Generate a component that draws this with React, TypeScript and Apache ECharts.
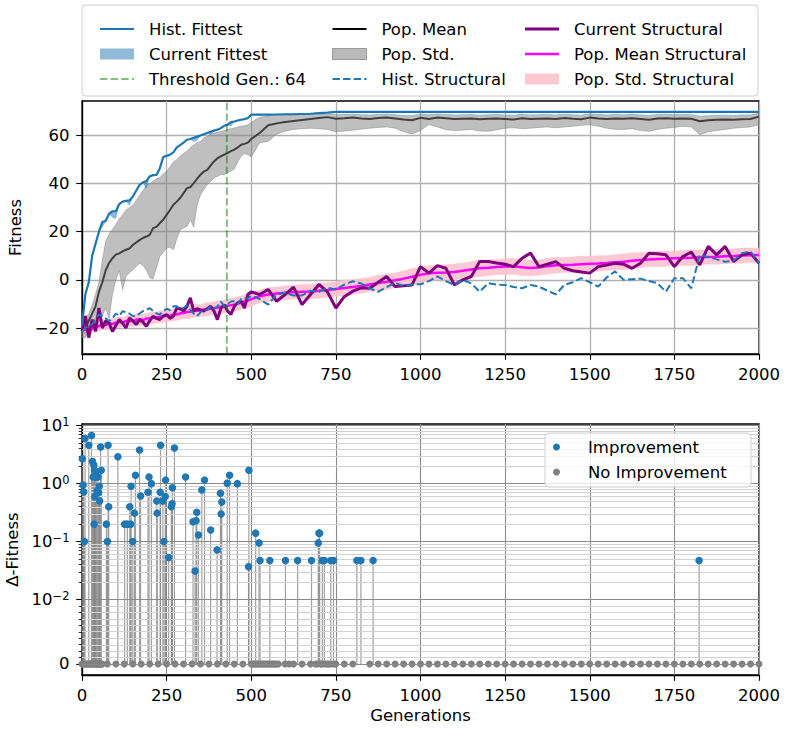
import React, { useEffect, useRef } from 'react';
import * as echarts from 'echarts';

// ---------------- data ----------------
const GENS = [0,10,20,30,40,50,60,70,80,90,100,110,120,130,140,150,160,170,180,190,200,210,220,230,240,250,260,270,280,290,300,310,320,330,340,350,360,370,380,390,400,410,420,430,440,450,460,470,480,490,500,525,550,575,600,625,650,675,700,725,750,775,800,825,850,875,900,925,950,975,1000,1025,1050,1075,1100,1125,1150,1175,1200,1225,1250,1275,1300,1325,1350,1375,1400,1425,1450,1475,1500,1525,1550,1575,1600,1625,1650,1675,1700,1725,1750,1775,1800,1825,1850,1875,1900,1925,1950,1975,2000];

const POP_MEAN = [-21,-20,-17,-14,-11,-5,-1,4,7,9,10.5,11,11.8,12.5,13,14.5,15.5,16.5,17.4,18,18.7,21.5,22,23.6,25,27,29,31.2,32.5,34,36,38.1,38.5,40.2,42,43.7,45,45.7,47.5,49.2,50.5,51.3,52,52.7,53.5,54.1,55,56.1,56.5,57,58.5,
  61,64.2,65,65.6,66,66.4,66.8,67.2,67.6,66.9,67.1,67.4,67,66.8,67.2,67.4,67,66.6,66.3,67.3,66.8,67.4,67.1,66.8,66.9,67,66.7,66.9,67,66.8,66.6,67.1,66.8,66.9,67,66.8,67.2,66.9,66.7,67.4,67,66.8,67,66.9,67.1,66.8,66.5,67,67.1,66.9,67,66.9,65.9,66.3,66.5,66.6,66.5,66.7,66.8,67.8];

const POP_STD_HI = [-17,-16,-14,-10.5,-6,-1,8,16,19,21,23,25.5,27,29,30,31,33,35,37,39.5,40,41,42,42.5,44,45,47,49,50,51.3,52.5,53.4,55,56,57,57.5,59,59.6,60.5,61,61.3,61.6,62,62.4,62.8,63.1,63.5,63.8,64,64.4,65.5,
  67.5,68.2,68.4,68.5,68.6,68.7,68.8,69,69,68.6,68.7,68.8,68.6,68.5,68.7,68.9,68.6,68.3,68.2,68.9,68.6,68.9,68.7,68.5,68.6,68.7,68.4,68.6,68.7,68.5,68.4,68.8,68.5,68.6,68.7,68.5,68.8,68.6,68.4,69,68.7,68.5,68.7,68.6,68.8,68.5,68.3,68.7,68.8,68.6,68.7,68.6,68,68.2,68.3,68.4,68.3,68.5,68.5,69.2];

const POP_STD_LO = [-24,-24,-22,-20,-19,-17.3,-15,-11.8,-16,-6,0,4,-4,1.4,3,4.1,5.5,6.9,6,4.1,1,0.3,5,9.7,11.5,13.2,13.5,12.5,17,20.8,21.5,22.2,25,22,31,35.3,37.5,39.5,41,42.3,43,43.7,43.7,44.5,45.2,46,49,51.3,52.5,52,51,
  57,57.5,60.5,61.8,62.5,62.8,63,62.8,62.5,61.5,61.8,62.2,62.6,63,63.3,63.5,63,61.5,60.6,62,64.5,63.5,62.4,62,62.2,62.5,61.8,61.7,62.3,63,63.2,62.8,63,63.3,63.5,63.2,63.5,63.8,64.2,64.4,63.8,63,62.5,62.5,62.8,62,61.7,62.5,63,63.3,63.8,63.5,60.3,61.5,62,62.5,63,63.3,63.5,64.5];

const CUR_STRUCT = [-21.4,-15,-24,-16.5,-21.4,-11.7,-20,-17,-18,-21.4,-19,-16.5,-18,-20,-15.8,-17,-18.6,-16.5,-17.5,-19.3,-17,-15.1,-16,-16.5,-15,-14.4,-16,-15.1,-11.7,-12,-13,-11,-7.5,-13,-12,-12.5,-13,-12,-11,-13,-16.5,-12,-10.3,-13,-14.4,-11,-9.5,-8.9,-11.7,-6.1,-5,
  -6.1,-4,-8.9,-6.1,-3,-10.3,-6.1,-1.9,-5,-11.7,-7,-4.7,-3.3,-3.5,-1,1.4,-2.8,-2.5,-2.1,5.5,2.8,5.9,4.8,-2.1,0,1.4,7.6,7.6,7,6.5,5.5,9,11.1,5.5,6.5,7.6,4.8,3.8,3.3,2.8,5.5,6.2,6.9,6.5,4.8,6.9,11.1,10.8,10.4,5.5,9.7,11.5,6.2,13.9,10.4,13.9,7.6,10.4,11.1,6.9];

const MEAN_STRUCT = [-20,-20.8,-21,-20.2,-19.6,-19.2,-18.4,-18.8,-18,-18.3,-17.8,-17.4,-17.7,-17.1,-17,-17.2,-16.6,-16.4,-16.7,-16.1,-16,-15.6,-15.7,-15.3,-15.2,-14.9,-14.9,-14.4,-14.4,-13.9,-13.8,-13.4,-13.3,-12.9,-12.8,-12.7,-12.3,-12.3,-11.9,-11.8,-11.6,-11.2,-11.1,-10.8,-10.5,-10.3,-9.8,-9.5,-9,-8.6,-8,
  -6.8,-6.1,-5.7,-5.4,-5.1,-4.9,-4.8,-4.5,-4.2,-3.8,-3.4,-3,-2.5,-1.9,-1.3,-0.8,-0.2,0.5,1.3,2.1,2.7,3,3.1,3.3,3.8,4.3,4.8,5,5.3,5.5,5.6,5.2,4.9,5.1,5.7,6.1,6.2,6.3,6.5,6.7,6.8,7,7.3,7.5,7.9,8.2,8.5,8.7,8.8,9,9.1,9.2,9.4,9.5,9.6,9.8,9.9,10.1,10.2,10.3];

const STD_STRUCT = [1.5,1.8,2,1.8,2,1.9,2.1,2,2.2,2,2.1,2.2,2,2.3,2.1,2.2,2.4,2.2,2.3,2.1,2.3,2.4,2.2,2.5,2.3,2.4,2.3,2.5,2.4,2.6,2.4,2.5,2.7,2.5,2.6,2.4,2.6,2.7,2.5,2.6,2.8,2.6,2.7,2.5,2.8,2.7,2.9,2.7,2.8,3,2.8,
  2.6,2.8,2.7,2.9,2.8,3,2.9,3.1,2.9,3,3.2,3,3.1,2.9,3.2,3.1,3,3.2,3.3,3.1,3.2,3,3.2,3.3,3.1,3.2,3.4,3.2,3.1,3.3,3.2,3.4,3.2,3.1,3.3,3.2,3,3.2,3.3,3.1,3.2,3,3.1,3.2,3.3,3.1,3,3.2,3.1,2.9,3.1,3.2,3,2.9,3.1,3,2.9,3.1,3,2.9];

const HIST_STRUCT = [-21.4,-20,-19,-18.6,-16,-14.4,-15,-16,-17.2,-16,-14,-15,-13,-13.5,-14,-15,-15.1,-14,-13,-12.5,-11.7,-13,-14,-14.4,-13,-12,-12.5,-11,-11,-12,-11.7,-10.5,-12.5,-14,-15.1,-13.5,-12.3,-12.5,-11,-12,-11,-9,-11,-10,-9,-8.9,-10,-8,-7.5,-7.8,-6.5,
  -8,-10.3,-6,-5.4,-6.5,-6.5,-4.5,-5,-3.3,-4,-2,-0.6,-1.5,-3.5,-5,-3,-1.2,-2.5,-1.9,-1.8,-0.5,1.4,-0.5,-2.1,0,-1.5,-4.9,-1.4,-2,-2.1,-3,-3.5,-2.1,-2.8,-4.5,-6,-2.1,-1,0.7,-1,-2.8,1,3.5,0,0.3,0.5,-0.5,-1.4,-4.9,0.7,0.7,-3.5,10.4,9.5,8.5,7.5,8,11.1,11.8,6.9];

const FIT_GENS = [0,10,20,30,40,50,60,70,80,90,100,110,120,130,140,150,160,170,180,190,200,210,220,230,240,250,260,270,280,290,300,310,320,330,340,350,360,370,380,390,400,410,420,430,440,450,460,470,480,490,500,525,550,575,600,625,650,675,700,725,750,2000];
const HIST_FIT = [-19,-6,-1,10,15,20,24,24.5,27.5,28.5,28.5,31.5,32.5,32.8,33,34.5,37,39.5,40.5,41,43,43.5,43.6,46.4,51,51.5,52,53,55,56,57,58.2,58.5,59,59.5,60,60.5,61,61.5,62,62.4,63,64,64.5,65.5,65.8,66.2,66.5,66.8,67.2,68.6,
  68.6,68.6,68.7,68.8,68.8,68.9,69,69.3,69.5,69.8,69.8];
const CUR_FIT = [-19,-6,-1,10,15,20,22,24.5,27.5,26,25.5,31.5,32.5,32.8,31,34.5,37,39.5,40.5,38,43,43.5,43.6,46.4,51,51.5,52,53,55,56,57,58.2,58.5,57.5,58,60,60.5,61,60.3,62,62.4,63,64,64.5,63.8,65.8,66.2,66.5,66.8,67.2,68.6,
  68.6,68.6,68.7,68.8,68.8,68.9,69,69.3,69.5,69.8,69.8];

const THRESHOLD_GEN = 428;
const THRESHOLD_LABEL = 'Threshold Gen.: 64';

const IMP_GENS = [1,3,5,7,9,20,28,31,33,35,36,37,38,40,42,44,47,49,51,52,55,57,72,75,77,79,106,126,134,141,144,145,150,155,158,170,173,195,198,205,221,222,231,232,239,242,246,247,256,264,266,267,273,306,328,334,337,339,344,354,362,380,399,409,411,413,429,436,459,492,493,513,523,526,555,601,637,678,698,700,702,710,716,735,743,812,824,860,1823];
const IMP_DELTA = [2.7,0.95,0.72,0.1,6.0,4.6,6.8,2.4,1.3,2.1,0.2,1.7,0.6,1.5,1.3,0.75,1.3,0.7,0.9,0.5,4.3,1.7,0.2,0.1,4.6,0.4,2.9,0.2,0.2,0.4,0.2,0.9,0.1,0.31,1.4,3.8,0.61,0.71,1.3,1.0,0.5,0.31,0.71,4.6,0.5,0.1,0.6,1.15,0.053,0.4,0.45,0.85,4.1,1.3,0.22,0.031,0.23,0.32,0.13,0.78,1.15,0.158,0.072,0.68,0.3,0.48,1.02,1.4,1.0,0.037,1.7,0.14,0.095,0.047,0.047,0.047,0.047,0.047,0.095,0.14,0.14,0.047,0.047,0.047,0.047,0.047,0.047,0.047,0.047];
const NOIMP_GENS = [0,2,4,6,11,13,15,17,22,24,26,29,30,32,34,39,41,43,45,46,48,50,53,54,56,58,60,75,100,125,150,175,200,225,250,275,300,325,350,375,400,425,450,475,500,504,508,512,516,519,522,528,532,536,540,544,548,552,558,562,566,570,575,580,600,612,625,650,675,690,694,704,707,712,720,725,730,738,746,750,775,800,850,875,900,925,950,975,1000,1025,1050,1075,1100,1125,1150,1175,1200,1225,1250,1275,1300,1325,1350,1375,1400,1425,1450,1475,1500,1525,1550,1575,1600,1625,1650,1675,1700,1725,1750,1775,1800,1825,1850,1875,1900,1925,1950,1975,2000];

const X_TICKS = [0, 250, 500, 750, 1000, 1250, 1500, 1750, 2000];
const TOP_Y_TICKS = [-20, 0, 20, 40, 60];
const DELTA_DECADES = [-2, -1, 0, 1];
const MINOR_MULTS = [2, 3, 4, 5, 6, 7, 8, 9];
const LINEAR_MINORS = [0.001, 0.002, 0.003, 0.004, 0.005, 0.006, 0.007, 0.008, 0.009];

// ---------------- layout / style ----------------
const FONT = 'DejaVu Sans';
const FS = 16.5;
const TOP_Y_MIN = -30.8;
const TOP_Y_MAX = 74.3;
const BOT_Y_MIN = -0.19;
const BOT_Y_MAX = 4.14;
const BLUE = '#1f77b4';

// legend handle shapes (matplotlib-like line handles, 34px long)
const solidHandle = (w: number) => `path://M0,0h34v${w}h-34z`;
const DASH_HANDLE = 'path://M0,0h7.4v2h-7.4zM10.6,0h7.4v2h-7.4zM21.2,0h7.4v2h-7.4zM31.8,0h2.2v2h-2.2z';

// symlog transform (linthresh 0.01, linscale 1, base 10)
const LINTHRESH = 0.01;
const LINSCALE_ADJ = 1 / (1 - 1 / 10);
const symlog = (v: number) =>
  v <= LINTHRESH ? (v / LINTHRESH) * LINSCALE_ADJ : LINSCALE_ADJ + Math.log10(v / LINTHRESH);

const pairs = (xs: number[], ys: number[]) => xs.map((x, i) => [x, ys[i]]);

function band(name: string, xs: number[], lo: number[], hi: number[], fill: string, stroke: string, z: number) {
  return {
    name,
    type: 'custom',
    xAxisIndex: 0,
    yAxisIndex: 0,
    z,
    silent: true,
    itemStyle: { color: fill },
    data: xs.map((x, i) => [x, lo[i], hi[i]]),
    encode: { x: 0, y: [1, 2] },
    renderItem: (params: any, api: any) => {
      if (params.dataIndex !== 0) return;
      const pts: number[][] = [];
      for (let i = 0; i < xs.length; i++) pts.push(api.coord([xs[i], hi[i]]));
      for (let i = xs.length - 1; i >= 0; i--) pts.push(api.coord([xs[i], lo[i]]));
      return {
        type: 'polygon',
        shape: { points: pts },
        style: { fill, stroke, lineWidth: 1 },
      };
    },
  };
}

function buildOption() {
  const structLo = MEAN_STRUCT.map((m, i) => m - STD_STRUCT[i]);
  const structHi = MEAN_STRUCT.map((m, i) => m + STD_STRUCT[i]);

  const botMajor = [symlog(0), ...DELTA_DECADES.map((d) => symlog(Math.pow(10, d)))];
  const botMinor: number[] = [];
  LINEAR_MINORS.forEach((v) => botMinor.push(symlog(v)));
  DELTA_DECADES.forEach((d) =>
    MINOR_MULTS.forEach((m) => {
      const t = symlog(m * Math.pow(10, d));
      if (t < BOT_Y_MAX) botMinor.push(t);
    })
  );

  const tickLabel = { fontFamily: FONT, fontSize: FS, color: '#000' };
  const xAxisBase = (gridIndex: number, extra: any = {}) => ({
    type: 'value',
    gridIndex,
    min: X_TICKS[0],
    max: X_TICKS[X_TICKS.length - 1],
    interval: X_TICKS[1] - X_TICKS[0],
    axisLine: { show: true, onZero: false, lineStyle: { color: '#000', width: 1.3 } },
    axisTick: { show: true, length: 5.8, lineStyle: { color: '#000', width: 1.1 } },
    axisLabel: { ...tickLabel, margin: 11.5, formatter: (v: number) => String(v) },
    ...extra,
  });

  const markLineData = [
    ...botMinor.map((t) => ({ yAxis: t, lineStyle: { color: '#d2d2d2', width: 1, type: 'solid' } })),
    ...botMajor.map((t) => ({ yAxis: t, lineStyle: { color: '#8a8a8a', width: 1.1, type: 'solid' } })),
  ];

  const legendCommon = {
    orient: 'vertical',
    padding: 0,
    itemWidth: 34,
    itemHeight: 11,
    itemGap: 7,
    selectedMode: false,
    z: 20,
    textStyle: { fontFamily: FONT, fontSize: FS, color: '#000', lineHeight: 18, padding: [0, 0, 0, 10] },
  };

  return {
    animation: false,
    backgroundColor: '#ffffff',
    textStyle: { fontFamily: FONT },
    grid: [
      { left: 82, right: 32, top: 101, height: 253, show: true, borderColor: '#000', borderWidth: 1.3, backgroundColor: 'transparent', containLabel: false, outerBoundsMode: 'none' },
      { left: 82, right: 32, top: 424, height: 251, show: true, borderColor: '#000', borderWidth: 1.3, backgroundColor: 'transparent', containLabel: false, outerBoundsMode: 'none' },
    ],
    xAxis: [
      xAxisBase(0, { splitLine: { show: true, lineStyle: { color: '#b0b0b0', width: 1.3 } } }),
      xAxisBase(1, {
        splitLine: { show: true, lineStyle: { color: '#8a8a8a', width: 1.1 } },
        name: 'Generations',
        nameLocation: 'middle',
        nameGap: 32,
        nameTextStyle: { fontFamily: FONT, fontSize: FS, color: '#000' },
      }),
    ],
    yAxis: [
      {
        type: 'value',
        gridIndex: 0,
        min: TOP_Y_MIN,
        max: TOP_Y_MAX,
        name: 'Fitness',
        nameLocation: 'middle',
        nameGap: 54,
        nameTextStyle: { fontFamily: FONT, fontSize: FS, color: '#000' },
        axisLine: { show: true, onZero: false, lineStyle: { color: '#000', width: 1.3 } },
        axisTick: { show: true, length: 5.8, customValues: TOP_Y_TICKS, lineStyle: { color: '#000', width: 1.1 } },
        axisLabel: {
          ...tickLabel,
          margin: 12.5,
          customValues: TOP_Y_TICKS,
          formatter: (v: number) => String(v).replace('-', '\u2212'),
        },
        splitLine: { show: true, lineStyle: { color: '#b0b0b0', width: 1.3 } },
      },
      {
        type: 'value',
        gridIndex: 1,
        min: BOT_Y_MIN,
        max: BOT_Y_MAX,
        name: '\u0394-Fitness',
        nameLocation: 'middle',
        nameGap: 57,
        nameTextStyle: { fontFamily: FONT, fontSize: FS, color: '#000' },
        axisLine: { show: true, onZero: false, lineStyle: { color: '#000', width: 1.3 } },
        axisTick: { show: true, length: 5.8, customValues: botMajor, lineStyle: { color: '#000', width: 1.1 } },
        axisLabel: {
          ...tickLabel,
          margin: 12.5,
          customValues: botMajor,
          formatter: (v: number) => {
            const i = botMajor.findIndex((t) => Math.abs(t - v) < 1e-3);
            if (i <= 0) return i === 0 ? '{b|0}' : '';
            const d = DELTA_DECADES[i - 1];
            return `{b|10}{e|${d < 0 ? '\u2212' + -d : d}}`;
          },
          rich: {
            b: { fontFamily: FONT, fontSize: FS, color: '#000', lineHeight: 20 },
            e: { fontFamily: FONT, fontSize: 11.5, color: '#000', lineHeight: 11.5, verticalAlign: 'top' },
          },
        },
        splitLine: { show: false },
      },
      {
        type: 'value',
        gridIndex: 1,
        min: BOT_Y_MIN,
        max: BOT_Y_MAX,
        position: 'left',
        axisLine: { show: false },
        axisTick: { show: true, length: 3.3, customValues: botMinor, lineStyle: { color: '#000', width: 0.8 } },
        axisLabel: { show: false },
        splitLine: { show: false },
      },
    ],
    legend: [
      {
        ...legendCommon,
        left: 100,
        top: 20,
        data: [
          { name: 'Hist. Fittest', icon: solidHandle(2.2) },
          { name: 'Current Fittest', icon: 'rect' },
          { name: THRESHOLD_LABEL, icon: DASH_HANDLE },
        ],
      },
      {
        ...legendCommon,
        left: 332,
        top: 20,
        data: [
          { name: 'Pop. Mean', icon: solidHandle(2) },
          { name: 'Pop. Std.', icon: 'rect', itemStyle: { color: 'rgba(128,128,128,0.55)', borderColor: 'rgba(110,110,110,0.6)', borderWidth: 1 } },
          { name: 'Hist. Structural', icon: DASH_HANDLE },
        ],
      },
      {
        ...legendCommon,
        left: 525,
        top: 20,
        data: [
          { name: 'Current Structural', icon: solidHandle(3) },
          { name: 'Pop. Mean Structural', icon: solidHandle(2.5) },
          { name: 'Pop. Std. Structural', icon: 'rect' },
        ],
      },
      { ...legendCommon, itemWidth: 33, itemHeight: 7, left: 553, top: 438, data: ['Improvement', 'No Improvement'] },
    ],
    graphic: [
      { type: 'rect', z: 15, silent: true, shape: { x: 82, y: 5, width: 676, height: 91, r: 4 }, style: { fill: 'rgba(255,255,255,0.8)', stroke: '#d0d0d0', lineWidth: 1 } },
      { type: 'rect', z: 15, silent: true, shape: { x: 545, y: 433, width: 206, height: 54, r: 4 }, style: { fill: 'rgba(255,255,255,0.8)', stroke: '#d0d0d0', lineWidth: 1 } },
    ],
    series: [
      // ---- top panel ----
      {
        name: 'Pop. Mean', type: 'line', xAxisIndex: 0, yAxisIndex: 0, z: 2, symbol: 'none',
        lineStyle: { color: '#000', width: 2 }, itemStyle: { color: '#000' },
        data: pairs(GENS, POP_MEAN),
      },
      band('Pop. Std.', GENS, POP_STD_LO, POP_STD_HI, 'rgba(128,128,128,0.5)', 'rgba(128,128,128,0.45)', 3),
      band('Pop. Std. Structural', GENS, structLo, structHi, 'rgba(255,192,203,0.85)', 'rgba(255,192,203,0.6)', 2),
      {
        name: 'Pop. Mean Structural', type: 'line', xAxisIndex: 0, yAxisIndex: 0, z: 4, symbol: 'none',
        lineStyle: { color: '#ff00ff', width: 2.5 }, itemStyle: { color: '#ff00ff' },
        data: pairs(GENS, MEAN_STRUCT),
      },
      {
        name: 'Current Structural', type: 'line', xAxisIndex: 0, yAxisIndex: 0, z: 5, symbol: 'none',
        lineStyle: { color: '#800080', width: 3 }, itemStyle: { color: '#800080' },
        data: pairs(GENS, CUR_STRUCT),
      },
      {
        name: 'Hist. Structural', type: 'line', xAxisIndex: 0, yAxisIndex: 0, z: 6, symbol: 'none',
        lineStyle: { color: BLUE, width: 2, type: [7.4, 3.2] }, itemStyle: { color: BLUE },
        data: pairs(GENS, HIST_STRUCT),
      },
      {
        name: 'Hist. Fittest', type: 'line', xAxisIndex: 0, yAxisIndex: 0, z: 6, symbol: 'none',
        lineStyle: { color: BLUE, width: 2.2 }, itemStyle: { color: BLUE },
        data: pairs(FIT_GENS, HIST_FIT),
      },
      band('Current Fittest', FIT_GENS, CUR_FIT, HIST_FIT, 'rgba(31,119,180,0.5)', 'rgba(31,119,180,0.3)', 7),
      {
        name: THRESHOLD_LABEL, type: 'line', xAxisIndex: 0, yAxisIndex: 0, z: 8, symbol: 'none',
        lineStyle: { color: 'rgba(0,128,0,0.5)', width: 2, type: [7.4, 3.2] }, itemStyle: { color: 'rgba(0,128,0,0.5)' },
        data: [[THRESHOLD_GEN, TOP_Y_MIN], [THRESHOLD_GEN, TOP_Y_MAX]],
      },
      // ---- bottom panel ----
      {
        name: '_grid', type: 'line', xAxisIndex: 1, yAxisIndex: 1, z: 1, symbol: 'none', data: [],
        markLine: { silent: true, symbol: ['none', 'none'], label: { show: false }, animation: false, data: markLineData },
      },
      {
        name: '_stems', type: 'bar', xAxisIndex: 1, yAxisIndex: 1, z: 3, barWidth: 1.2, silent: true,
        itemStyle: { color: 'rgba(128,128,128,0.75)' },
        data: pairs(IMP_GENS, IMP_DELTA.map(symlog)),
      },
      {
        name: 'No Improvement', type: 'scatter', xAxisIndex: 1, yAxisIndex: 1, z: 4, symbol: 'circle', symbolSize: 7,
        itemStyle: { color: '#808080', opacity: 1 },
        data: NOIMP_GENS.map((g) => [g, symlog(0)]),
      },
      {
        name: 'Improvement', type: 'scatter', xAxisIndex: 1, yAxisIndex: 1, z: 5, symbol: 'circle', symbolSize: 7.5,
        itemStyle: { color: BLUE, opacity: 1 },
        data: pairs(IMP_GENS, IMP_DELTA.map(symlog)),
      },
    ],
  };
}

export default function App() {
  const ref = useRef<HTMLDivElement>(null);
  useEffect(() => {
    const chart = echarts.init(ref.current as HTMLDivElement, undefined, { renderer: 'svg' });
    chart.setOption(buildOption() as any);
    return () => chart.dispose();
  }, []);
  return (
    <div
      ref={ref}
      style={{ position: 'fixed', left: 0, top: 0, width: 791, height: 733, background: '#fff' }}
    />
  );
}
